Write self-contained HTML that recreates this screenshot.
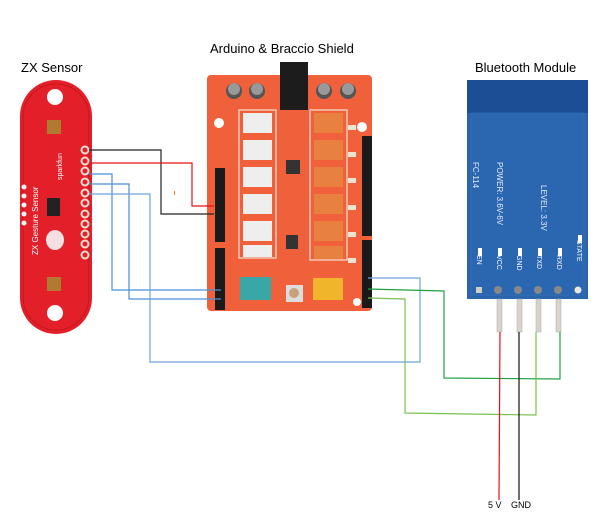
<!DOCTYPE html>
<html><head><meta charset="utf-8"><style>
html,body{margin:0;padding:0;background:#fff;width:615px;height:531px;overflow:hidden}
svg{display:block}
text{font-family:"Liberation Sans",sans-serif}
</style></head><body>
<svg width="615" height="531" viewBox="0 0 615 531" xmlns="http://www.w3.org/2000/svg">
<text x="21" y="72" font-size="13" fill="#000">ZX Sensor</text>
<text x="210" y="53" font-size="13" fill="#000">Arduino &amp; Braccio Shield</text>
<text x="475" y="72" font-size="13" fill="#000">Bluetooth Module</text>

<!-- ZX sensor -->
<rect x="20" y="80" width="72" height="254" rx="36" fill="#e3202a"/>
<rect x="23" y="84" width="66" height="246" rx="33" fill="none" stroke="#c8141e" stroke-width="1"/>
<circle cx="55" cy="97" r="8" fill="#fff"/>
<circle cx="55" cy="313" r="8" fill="#fff"/>
<rect x="47" y="120" width="14" height="14" fill="#b07a30"/>
<rect x="47" y="277" width="14" height="14" fill="#b07a30"/>
<rect x="47" y="198" width="13" height="18" fill="#222"/>
<g fill="#f5f5f5"><circle cx="24" cy="187" r="2.5"/><circle cx="24" cy="196" r="2.5"/><circle cx="24" cy="205" r="2.5"/><circle cx="24" cy="214" r="2.5"/><circle cx="24" cy="223" r="2.5"/></g>
<g fill="#e3202a" stroke="#f0e0d0" stroke-width="2">
<circle cx="85" cy="150" r="3.5"/><circle cx="85" cy="161" r="3.5"/><circle cx="85" cy="171" r="3.5"/><circle cx="85" cy="182" r="3.5"/><circle cx="85" cy="193" r="3.5"/><circle cx="85" cy="203" r="3.5"/><circle cx="85" cy="214" r="3.5"/><circle cx="85" cy="224" r="3.5"/><circle cx="85" cy="234" r="3.5"/><circle cx="85" cy="244" r="3.5"/><circle cx="85" cy="255" r="3.5"/></g>
<text x="0" y="0" font-size="8" fill="#fff" transform="translate(38,255) rotate(-90)">ZX Gesture Sensor</text>
<text x="0" y="0" font-size="7" fill="#fff" transform="translate(62,180) rotate(-90)">sparkfun</text>
<ellipse cx="55" cy="240" rx="9" ry="10" fill="#f4e0e0"/>

<!-- Arduino shield -->
<rect x="207" y="75" width="165" height="236" rx="4" fill="#f0603a"/>
<rect x="280" y="62" width="28" height="48" fill="#1c1c1c"/>
<g fill="#555"><circle cx="234" cy="91" r="8"/><circle cx="257" cy="91" r="8"/><circle cx="324" cy="91" r="8"/><circle cx="348" cy="91" r="8"/></g>
<g fill="#999"><circle cx="234" cy="89" r="6"/><circle cx="257" cy="89" r="6"/><circle cx="324" cy="89" r="6"/><circle cx="348" cy="89" r="6"/></g>
<g fill="#fff"><circle cx="219" cy="123" r="5"/><circle cx="362" cy="127" r="5"/><circle cx="220" cy="302" r="4"/><circle cx="357" cy="302" r="4"/></g>
<rect x="239" y="110" width="37" height="148" fill="none" stroke="#f5c8b8" stroke-width="1.5"/>
<g fill="#eee"><rect x="243" y="113" width="29" height="20"/><rect x="243" y="140" width="29" height="20"/><rect x="243" y="167" width="29" height="20"/><rect x="243" y="194" width="29" height="20"/><rect x="243" y="221" width="29" height="20"/><rect x="243" y="245" width="29" height="12"/></g>
<rect x="310" y="110" width="37" height="150" fill="none" stroke="#f5c8b8" stroke-width="1.5"/>
<g fill="#e8803f"><rect x="314" y="113" width="29" height="20"/><rect x="314" y="140" width="29" height="20"/><rect x="314" y="167" width="29" height="20"/><rect x="314" y="194" width="29" height="20"/><rect x="314" y="221" width="29" height="20"/><rect x="314" y="246" width="29" height="13"/></g>
<g fill="#ece4d0"><rect x="348" y="125" width="8" height="5"/><rect x="348" y="152" width="8" height="5"/><rect x="348" y="178" width="8" height="5"/><rect x="348" y="205" width="8" height="5"/><rect x="348" y="232" width="8" height="5"/><rect x="348" y="258" width="8" height="5"/></g>
<rect x="286" y="160" width="14" height="14" fill="#333"/>
<rect x="286" y="235" width="12" height="14" fill="#333"/>
<rect x="215" y="168" width="10" height="74" fill="#1a1a1a"/>
<rect x="215" y="248" width="10" height="62" fill="#1a1a1a"/>
<rect x="362" y="136" width="10" height="100" fill="#1a1a1a"/>
<rect x="362" y="240" width="10" height="68" fill="#1a1a1a"/>
<rect x="240" y="277" width="31" height="23" fill="#3aa7a7"/>
<rect x="313" y="278" width="30" height="22" fill="#f0b52a"/>
<rect x="286" y="285" width="17" height="17" fill="#ddd"/>
<circle cx="294" cy="293" r="5" fill="#c9a07a"/>

<!-- Bluetooth -->
<rect x="467" y="80" width="121" height="219" fill="#2a64ad"/>
<rect x="467" y="80" width="121" height="33" fill="#1b4f95"/>
<rect x="471" y="113" width="113" height="182" fill="#2b66b0" stroke="#3b78c0" stroke-width="0.5"/>
<text x="0" y="0" font-size="8" fill="#e6eef8" transform="translate(473,162) rotate(90)">FC-114</text>
<text x="0" y="0" font-size="8" fill="#e6eef8" transform="translate(497,162) rotate(90)">POWER: 3.6V-6V</text>
<text x="0" y="0" font-size="8" fill="#e6eef8" transform="translate(541,185) rotate(90)">LEVEL: 3.3V</text>
<g font-size="7" fill="#fff">
<text transform="translate(477,255) rotate(90)">EN</text>
<text transform="translate(497,255) rotate(90)">VCC</text>
<text transform="translate(517,255) rotate(90)">GND</text>
<text transform="translate(537,255) rotate(90)">TXD</text>
<text transform="translate(557,255) rotate(90)">RXD</text>
<text transform="translate(577,240) rotate(90)">STATE</text></g>
<g fill="#fff"><rect x="478" y="248" width="4" height="8"/><rect x="498" y="248" width="4" height="8"/><rect x="518" y="248" width="4" height="8"/><rect x="538" y="248" width="4" height="8"/><rect x="558" y="248" width="4" height="8"/><rect x="578" y="235" width="4" height="8"/></g>
<rect x="476" y="287" width="6" height="6" fill="#d0d0c0"/>
<g fill="#888"><circle cx="498" cy="290" r="4"/><circle cx="518" cy="290" r="4"/><circle cx="538" cy="290" r="4"/><circle cx="558" cy="290" r="4"/></g>
<circle cx="578" cy="290" r="3.5" fill="#e8e8e0"/>
<g fill="#d8d4cc" stroke="#aaa" stroke-width="0.5"><rect x="497" y="299" width="5" height="33"/><rect x="517" y="299" width="5" height="33"/><rect x="536" y="299" width="5" height="33"/><rect x="556" y="299" width="5" height="33"/></g>

<!-- wires -->
<g fill="none" stroke-width="1.2">
<polyline points="89,150 161,150 161,214 214,214" stroke="#222"/>
<polyline points="89,163 192,163 192,206 214,206" stroke="#e81010"/>
<polyline points="89,174 112,174 112,290 221,290" stroke="#4a8fd8"/>
<polyline points="89,184 129,184 129,299 221,299" stroke="#4a8fd8"/>
<polyline points="89,194 150,194 150,362 420,362 420,278 368,278" stroke="#6fa3dc"/>
<polyline points="368,289 444,291 444,378 560,379 560,332" stroke="#20a040"/>
<polyline points="368,298 405,299 405,413 536,415 536,332" stroke="#7ac050"/>
<line x1="500" y1="332" x2="499" y2="500" stroke="#e81010"/>
<line x1="519" y1="332" x2="519" y2="500" stroke="#111"/>
</g>
<rect x="174" y="191" width="1" height="4" fill="#f08020"/>
<text x="488" y="508" font-size="9" fill="#000">5 V</text>
<text x="511" y="508" font-size="9" fill="#000">GND</text>
</svg>
</body></html>
